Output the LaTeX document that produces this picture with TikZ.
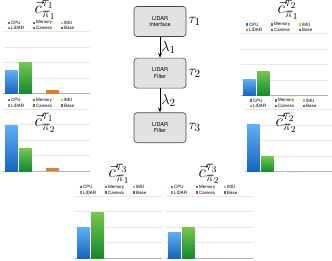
\documentclass[tikz,border=0pt]{standalone}
\usepackage{fontspec}
\setsansfont{TeX Gyre Heros}
\usetikzlibrary{positioning,arrows.meta}

\definecolor{boxfill}{RGB}{226, 226, 226}
\definecolor{boxedge}{RGB}{70, 70, 70}
\definecolor{gridgray}{RGB}{232, 232, 232}
\definecolor{axisgray}{RGB}{180, 180, 180}
\definecolor{cpublue}{RGB}{47, 125, 225}
\definecolor{cpulight}{RGB}{95, 176, 245}
\definecolor{cpudark}{RGB}{21, 101, 192}
\definecolor{memgreen}{RGB}{46, 160, 67}
\definecolor{memlight}{RGB}{115, 201, 78}
\definecolor{memdark}{RGB}{19, 138, 46}
\definecolor{imuyellow}{RGB}{230, 185, 30}
\definecolor{lidarorange}{RGB}{230, 126, 34}
\definecolor{camred}{RGB}{226, 67, 30}
\definecolor{basepurple}{RGB}{142, 68, 173}

\tikzset{
  task/.style = {
    draw          = boxedge,
    fill          = boxfill,
    line width    = 0.6pt,
    rounded corners = 3pt,
    minimum width = 52pt,
    minimum height= 30pt,
    align         = center,
    font          = \sffamily\fontsize{5.5}{6.5}\selectfont
  },
  tasklabel/.style  = {font=\fontsize{15}{17}\selectfont, inner sep=1pt},
  gridline/.style   = {draw=gridgray, line width=0.5pt},
  axisline/.style   = {draw=axisgray, line width=0.6pt},
  legendtext/.style = {font=\sffamily\fontsize{4.4}{5}\selectfont, inner sep=0pt, anchor=west},
  charttitle/.style = {font=\fontsize{19}{21}\selectfont, inner sep=0pt}
}

% #1 grid left, #2 baseline, #3/#4 title position, #5 tau, #6 pi,
% #7 cpu top, #8 memory top, #9 lidar top
\newcommand{\costchart}[9]{%
  \foreach \k in {1,...,4}
    \draw[gridline] (#1,#2-15.5*\k) -- ++(87,0);
  \draw[axisline] (#1,#2) -- ++(87,0);
  \shade[top color=cpulight, bottom color=cpudark] (#1+2,#7) rectangle (#1+14.5,#2);
  \shade[top color=memlight, bottom color=memdark] (#1+16,#8) rectangle (#1+28.5,#2);
  \fill[lidarorange] (#1+43,#9) rectangle (#1+55.5,#2);
  \foreach \c/\t/\dx/\dy in {cpublue/CPU/0/0, memgreen/Memory/25/0, imuyellow/IMU/53/0,
      lidarorange/LIDAR/0/5.5, camred/Camera/25/5.5, basepurple/Base/53/5.5} {
    \fill[\c] (#1+6+\dx-1.2,#2-71+\dy-1.2) rectangle ++(2.4,2.4);
    \node[legendtext] at (#1+6+\dx+2,#2-71+\dy) {\t};
  }
  \node[charttitle] (c#5#6) at (#3,#4) {$\vec{c}^{\tau_{#5}}_{\pi_{#6}}$};
}

\begin{document}
\begin{tikzpicture}[x=1pt, y=-1pt]
  \useasboundingbox (0,0) rectangle (332,260);

  % resource cost charts
  \costchart{3}{93.7}{45}{10}{1}{1}{70}{62}{90}
  \costchart{241}{95.5}{288}{10}{2}{1}{79}{71}{95.5}
  \costchart{3}{171}{45}{123}{1}{2}{125}{148}{168}
  \costchart{245}{171.5}{286}{123}{2}{2}{124}{156}{171.5}
  \costchart{75}{258}{119}{174}{3}{1}{227}{212}{258}
  \costchart{166}{258}{209}{174}{3}{2}{232}{227}{258}

  % task chain
  \node[task] (t1) at (160,21.5) {LIDAR\\Interface};
  \node[task, below=21pt of t1] (t2) {LIDAR\\Filter};
  \node[task, below=24pt of t2] (t3) {LIDAR\\Filter};

  \node[tasklabel, right=1pt of t1] (tau1) {$\tau_1$};
  \node[tasklabel, right=1pt of t2] (tau2) {$\tau_2$};
  \node[tasklabel, right=1pt of t3] (tau3) {$\tau_3$};

  \draw[-{Stealth[length=5pt]}, line width=0.8pt] (t1) -- node[tasklabel, right] (lam1) {$\lambda_1$} (t2);
  \draw[-{Stealth[length=5pt]}, line width=0.8pt] (t2) -- node[tasklabel, right] (lam2) {$\lambda_2$} (t3);
\end{tikzpicture}
\end{document}
